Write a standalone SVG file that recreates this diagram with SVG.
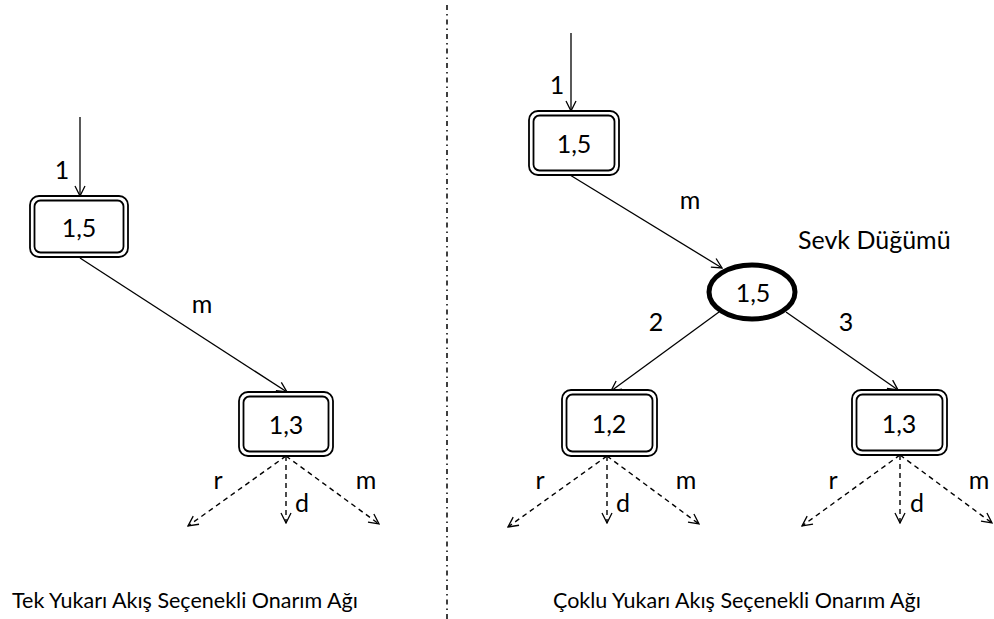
<svg xmlns="http://www.w3.org/2000/svg" width="994" height="619" viewBox="0 0 994 619">
  <style>
    text { font-family: Lato, "Liberation Sans", sans-serif; fill: #000; }
    .lbl { font-size: 25px; text-anchor: middle; }
    .node-text { font-size: 25px; text-anchor: middle; dominant-baseline: central; }
    .cap { font-size: 21.5px; }
    .box { fill: #fff; stroke: #000; stroke-width: 1.8; }
    .solid { stroke: #000; stroke-width: 1.3; fill: none; }
    .dash { stroke: #000; stroke-width: 1.4; fill: none; stroke-dasharray: 5 4; }
    .divider { stroke: #000; stroke-width: 1.5; stroke-dasharray: 5 4 1.5 4; }
  </style>
  <defs>
    <marker id="arrow" viewBox="0 0 12 12" refX="11" refY="6" markerWidth="12" markerHeight="12" markerUnits="userSpaceOnUse" orient="auto">
      <path d="M1,1 L11,6 L1,11" fill="none" stroke="#000" stroke-width="1.3"/>
    </marker>
  </defs>

  <rect width="994" height="619" fill="#fff"/>

  <!-- divider between the two networks -->
  <line class="divider" x1="447" y1="5" x2="447" y2="619"/>

  <g id="connectors">
    <!-- single upstream network -->
    <line class="solid" x1="80" y1="117" x2="80" y2="196" marker-end="url(#arrow)"/>
    <line class="solid" x1="80" y1="258" x2="287" y2="392" marker-end="url(#arrow)"/>
    <line class="dash" x1="286" y1="456" x2="188" y2="526" marker-end="url(#arrow)"/>
    <line class="dash" x1="286" y1="456" x2="286" y2="523" marker-end="url(#arrow)"/>
    <line class="dash" x1="286" y1="456" x2="379" y2="524" marker-end="url(#arrow)"/>

    <!-- multiple upstream network -->
    <line class="solid" x1="571" y1="33" x2="571" y2="111" marker-end="url(#arrow)"/>
    <line class="solid" x1="570" y1="175" x2="722" y2="268" marker-end="url(#arrow)"/>
    <line class="solid" x1="719" y1="312" x2="611" y2="391" marker-end="url(#arrow)"/>
    <line class="solid" x1="786" y1="312" x2="898" y2="390" marker-end="url(#arrow)"/>

    <line class="dash" x1="607" y1="456" x2="508" y2="527" marker-end="url(#arrow)"/>
    <line class="dash" x1="607" y1="456" x2="607" y2="523" marker-end="url(#arrow)"/>
    <line class="dash" x1="607" y1="456" x2="699" y2="524" marker-end="url(#arrow)"/>

    <line class="dash" x1="900" y1="455" x2="802" y2="526" marker-end="url(#arrow)"/>
    <line class="dash" x1="900" y1="455" x2="900" y2="523" marker-end="url(#arrow)"/>
    <line class="dash" x1="900" y1="455" x2="992" y2="523" marker-end="url(#arrow)"/>

    <!-- connector labels -->
    <text class="lbl" x="62" y="179">1</text>
    <text class="lbl" x="202" y="313">m</text>
    <text class="lbl" x="218" y="489">r</text>
    <text class="lbl" x="302" y="512">d</text>
    <text class="lbl" x="366" y="489">m</text>

    <text class="lbl" x="557" y="94">1</text>
    <text class="lbl" x="690" y="209">m</text>
    <text class="lbl" x="656" y="331">2</text>
    <text class="lbl" x="846" y="331">3</text>
    <text class="lbl" x="540" y="489">r</text>
    <text class="lbl" x="623" y="512">d</text>
    <text class="lbl" x="686" y="489">m</text>
    <text class="lbl" x="833" y="489">r</text>
    <text class="lbl" x="917" y="512">d</text>
    <text class="lbl" x="979" y="489">m</text>
  </g>

  <g id="node-left-source">
    <rect class="box" x="30" y="196" width="98" height="61" rx="9"/>
    <rect class="box" x="34.5" y="200.5" width="89" height="52" rx="6"/>
    <text class="node-text" x="79" y="227">1,5</text>
  </g>

  <g id="node-left-target">
    <rect class="box" x="239" y="392" width="94" height="64" rx="9"/>
    <rect class="box" x="243.5" y="396.5" width="85" height="55" rx="6"/>
    <text class="node-text" x="286" y="424">1,3</text>
  </g>

  <g id="node-right-source">
    <rect class="box" x="529" y="111" width="90" height="64" rx="9"/>
    <rect class="box" x="533.5" y="115.5" width="81" height="55" rx="6"/>
    <text class="node-text" x="574" y="143">1,5</text>
  </g>

  <g id="node-dispatch">
    <ellipse cx="752" cy="292" rx="43" ry="27" fill="#fff" stroke="#000" stroke-width="5"/>
    <text class="node-text" x="753" y="292">1,5</text>
    <text class="lbl" x="798" y="249" style="text-anchor:start">Sevk Düğümü</text>
  </g>

  <g id="node-right-a">
    <rect class="box" x="562" y="390" width="95" height="66" rx="9"/>
    <rect class="box" x="566.5" y="394.5" width="86" height="57" rx="6"/>
    <text class="node-text" x="609" y="423">1,2</text>
  </g>

  <g id="node-right-b">
    <rect class="box" x="852" y="390" width="95" height="65" rx="9"/>
    <rect class="box" x="856.5" y="394.5" width="86" height="56" rx="6"/>
    <text class="node-text" x="899" y="423">1,3</text>
  </g>

  <!-- captions -->
  <text class="cap" x="12" y="608">Tek Yukarı Akış Seçenekli Onarım Ağı</text>
  <text class="cap" x="553" y="608">Çoklu Yukarı Akış Seçenekli Onarım Ağı</text>
</svg>
